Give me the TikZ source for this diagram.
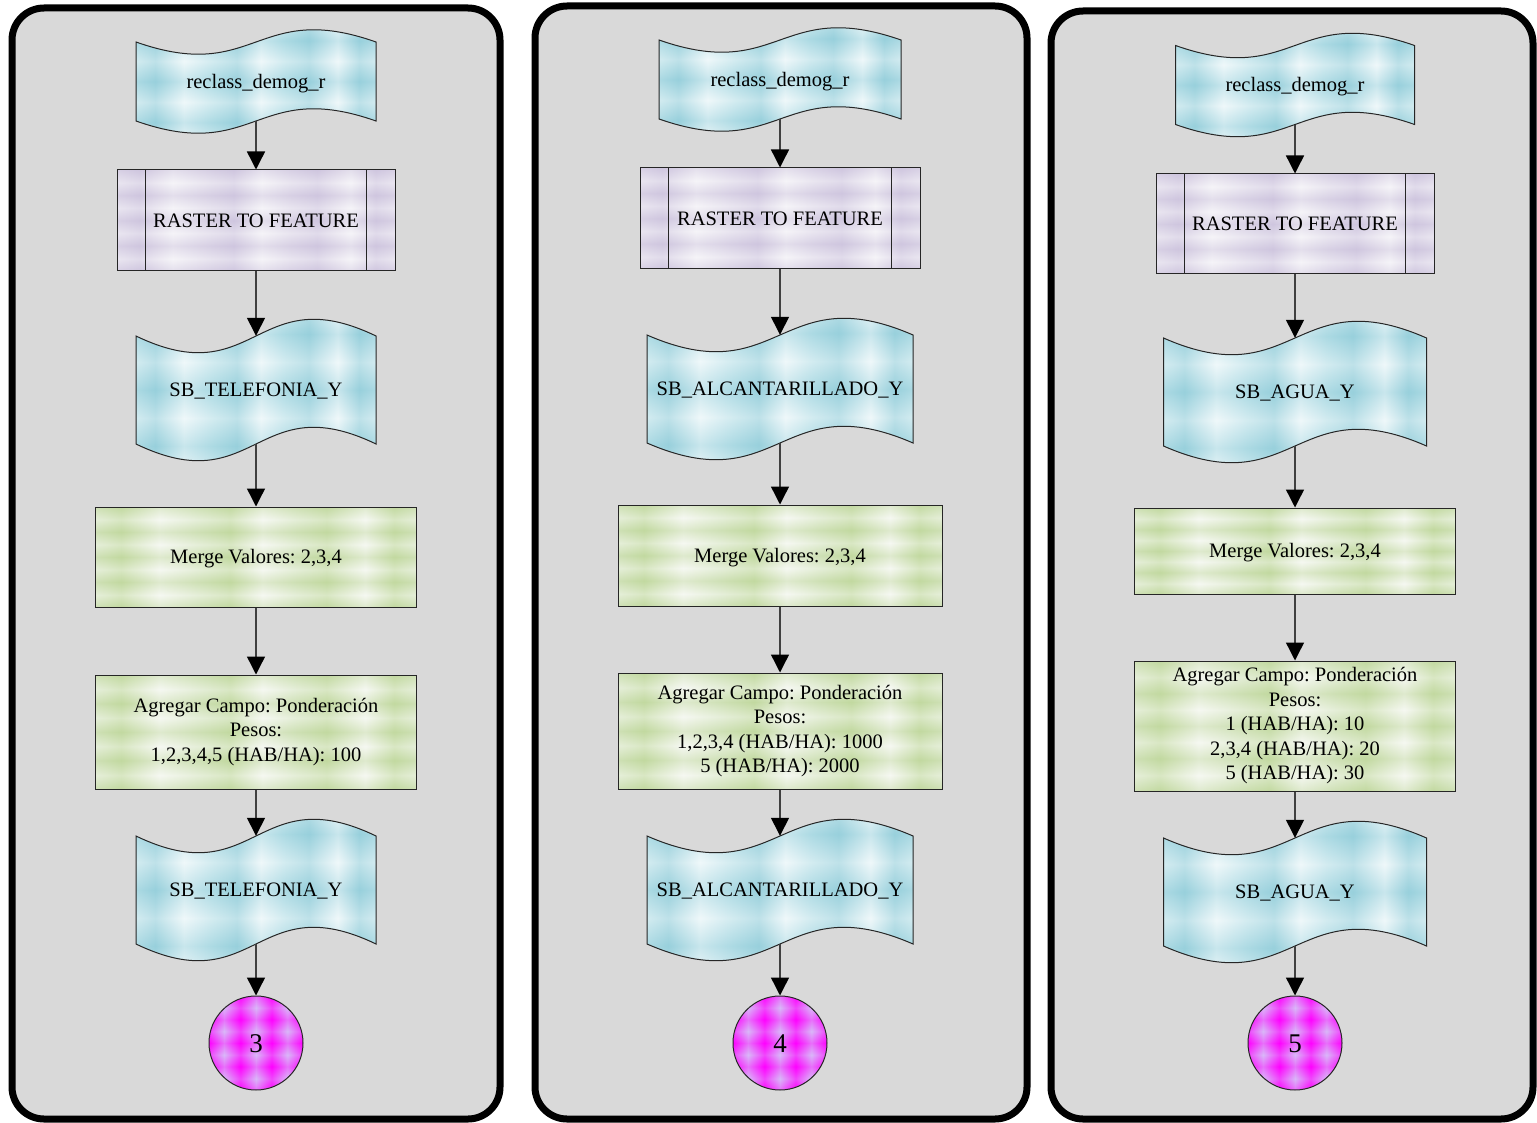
\documentclass[tikz,border=0pt]{standalone}
\usepackage{fontspec}
\setmainfont{Liberation Serif}
\usetikzlibrary{arrows.meta}
\frenchspacing

% palette
\definecolor{panelgray}{HTML}{D9D9D9}
\definecolor{tapeD}{HTML}{98D0DC}
\definecolor{tapeM}{HTML}{B8E0E8}
\definecolor{tapeL}{HTML}{E6F4F7}
\definecolor{lavD}{HTML}{CFC6DF}
\definecolor{lavM}{HTML}{DDD7E8}
\definecolor{lavL}{HTML}{F0EEF4}
\definecolor{grnD}{HTML}{C2D9A0}
\definecolor{grnM}{HTML}{D6E5C2}
\definecolor{grnL}{HTML}{F0F4EA}
\definecolor{magD}{HTML}{FF00FF}
\definecolor{magL}{HTML}{D9B8F8}

% striped fills: vertical bands (H) and horizontal bands (V)
\newcommand\makestripes[1]{%
  \pgfdeclarehorizontalshading{#1H}{100bp}{color(0bp)=(#1M); color(25bp)=(#1M);
    color(29bp)=(#1D); color(35bp)=(#1L); color(41bp)=(#1M); color(46bp)=(#1D);
    color(51bp)=(#1L); color(56bp)=(#1M); color(61bp)=(#1D); color(67bp)=(#1L);
    color(71.5bp)=(#1D); color(75bp)=(#1M); color(100bp)=(#1M)}%
  \pgfdeclareverticalshading{#1V}{100bp}{color(0bp)=(#1D); color(25bp)=(#1D);
    color(31bp)=(white); color(37.5bp)=(#1D); color(43.7bp)=(white); color(50bp)=(#1D);
    color(56.2bp)=(white); color(62.5bp)=(#1D); color(68.7bp)=(white); color(75bp)=(#1D);
    color(100bp)=(#1D)}%
}
\makestripes{tape}
\makestripes{lav}
\makestripes{grn}
\pgfdeclarehorizontalshading{magH}{100bp}{color(0bp)=(magD); color(25bp)=(magD);
  color(33bp)=(magL); color(41.7bp)=(magD); color(50bp)=(magL); color(58.3bp)=(magD);
  color(66.7bp)=(magL); color(75bp)=(magD); color(100bp)=(magD)}
\pgfdeclareverticalshading{magV}{100bp}{color(0bp)=(magD); color(25bp)=(magD);
  color(31bp)=(magL); color(37.5bp)=(magD); color(43.7bp)=(magL); color(50bp)=(magD);
  color(56.2bp)=(magL); color(62.5bp)=(magD); color(68.7bp)=(magL); color(75bp)=(magD); color(100bp)=(magD)}

% line strut: fixes the baseline of first and last line like a word processor does
\newcommand\wstrut{\rule[-0.216em]{0pt}{1.107em}}

\tikzset{
  panel/.style={draw=black, line width=7pt, fill=panelgray, rounded corners=32pt},
  outline/.style={draw=black!85, line width=1pt},
  flow/.style={draw=black!75, line width=1.4pt, -{Triangle[length=18pt,width=18pt,color=black]}},
  bands/.style={path picture={\shade[shading=#1, fill opacity=.38]
      (path picture bounding box.south west) rectangle (path picture bounding box.north east);}},
  rasterbox/.style={rectangle, outline, shade, shading=lavH, bands=lavV, inner sep=0pt},
  greenbox/.style={rectangle, outline, shade, shading=grnH, bands=grnV, inner sep=0pt, align=center},
  connector/.style={circle, outline, shade, shading=magH, bands=magV, minimum size=94pt,
      inner sep=0pt, font=\fontsize{27}{30}\selectfont},
  tapelabel/.style={rectangle, inner sep=0pt, align=center},
  every node/.style={font=\fontsize{20.5}{24.5}\selectfont, text=black,
      execute at begin node=\wstrut, execute at end node=\wstrut},
}

% punched-tape (wavy) data shape: name, cx, cy, width, height, text
\newcommand\wavetape[6]{%
  \pgfmathsetmacro\wvL{#2-#4/2}%
  \pgfmathsetmacro\wvR{#2+#4/2}%
  \pgfmathsetmacro\wvT{#3-#5/2}%
  \pgfmathsetmacro\wvB{#3+#5/2}%
  \pgfmathsetmacro\wvC{0.536*#5}%
  \path[shade, shading=tapeH,
        postaction={shade, shading=tapeV, fill opacity=.38},
        postaction={outline}]
    (\wvL,\wvT) .. controls (#2,\wvT+\wvC) and (#2,\wvT-\wvC) .. (\wvR,\wvT)
    -- (\wvR,\wvB) .. controls (#2,\wvB-\wvC) and (#2,\wvB+\wvC) .. (\wvL,\wvB) -- cycle;
  \node[tapelabel, minimum width=#4, minimum height=#5] (#1) at (#2,#3) {#6};
}

% predefined-process box: side bars
\newcommand\sidebars[1]{%
  \draw[outline] ([xshift=29pt]#1.north west) -- ([xshift=29pt]#1.south west);
  \draw[outline] ([xshift=-29pt]#1.north east) -- ([xshift=-29pt]#1.south east);
}

\begin{document}
\begin{tikzpicture}[x=1pt, y=-1pt]
\useasboundingbox (0,0) rectangle (1537,1123);
\fill[white] (0,0) rectangle (1537,1123);

% ---------- panels ----------
\draw[panel] (12,8) rectangle (500,1119);
\draw[panel] (535,6) rectangle (1027,1119);
\draw[panel] (1051,11) rectangle (1533,1119);

% ---------- chain 1 : telefonia ----------
\wavetape{p1src}{256}{81.5}{240}{79}{reclass\_demog\_r}
\node[rasterbox, minimum width=278pt, minimum height=101pt] (p1rtf) at (256,220.5) {RASTER TO FEATURE};
\sidebars{p1rtf}
\wavetape{p1lyr}{256}{390}{240}{108}{SB\_TELEFONIA\_Y}
\node[greenbox, minimum width=321pt, minimum height=100pt] (p1mrg) at (256,557) {Merge Valores: 2,3,4};
\node[greenbox, minimum width=321pt, minimum height=114pt] (p1fld) at (256,732)
  {Agregar Campo: Ponderación\\Pesos:\\1,2,3,4,5 (HAB/HA): 100};
\wavetape{p1out}{256}{890}{240}{108}{SB\_TELEFONIA\_Y}
\node[connector] (p1con) at (256,1043) {3};

\draw[flow] (p1src.south) -- (p1rtf.north);
\draw[flow] (p1rtf.south) -- (p1lyr.north);
\draw[flow] (p1lyr.south) -- (p1mrg.north);
\draw[flow] (p1mrg.south) -- (p1fld.north);
\draw[flow] (p1fld.south) -- (p1out.north);
\draw[flow] (p1out.south) -- (p1con.north);

% ---------- chain 2 : alcantarillado ----------
\wavetape{p2src}{780}{79.5}{242}{79}{reclass\_demog\_r}
\node[rasterbox, minimum width=280pt, minimum height=101pt] (p2rtf) at (780,218.5) {RASTER TO FEATURE};
\sidebars{p2rtf}
\wavetape{p2lyr}{780}{389}{266}{108}{SB\_ALCANTARILLADO\_Y}
\node[greenbox, minimum width=324pt, minimum height=101pt] (p2mrg) at (780,555.5) {Merge Valores: 2,3,4};
\node[greenbox, minimum width=324pt, minimum height=116pt] (p2fld) at (780,731)
  {Agregar Campo: Ponderación\\Pesos:\\1,2,3,4 (HAB/HA): 1000\\5 (HAB/HA): 2000};
\wavetape{p2out}{780}{890}{266}{108}{SB\_ALCANTARILLADO\_Y}
\node[connector] (p2con) at (780,1043) {4};

\draw[flow] (p2src.south) -- (p2rtf.north);
\draw[flow] (p2rtf.south) -- (p2lyr.north);
\draw[flow] (p2lyr.south) -- (p2mrg.north);
\draw[flow] (p2mrg.south) -- (p2fld.north);
\draw[flow] (p2fld.south) -- (p2out.north);
\draw[flow] (p2out.south) -- (p2con.north);

% ---------- chain 3 : agua ----------
\wavetape{p3src}{1295}{85}{239}{79}{reclass\_demog\_r}
\node[rasterbox, minimum width=278pt, minimum height=100pt] (p3rtf) at (1295,224) {RASTER TO FEATURE};
\sidebars{p3rtf}
\wavetape{p3lyr}{1295}{392}{263}{108}{SB\_AGUA\_Y}
\node[greenbox, minimum width=321pt, minimum height=86pt] (p3mrg) at (1295,551) {Merge Valores: 2,3,4};
\node[greenbox, minimum width=321pt, minimum height=130pt] (p3fld) at (1295,726)
  {Agregar Campo: Ponderación\\Pesos:\\1 (HAB/HA): 10\\2,3,4 (HAB/HA): 20\\5 (HAB/HA): 30};
\wavetape{p3out}{1295}{892}{263}{108}{SB\_AGUA\_Y}
\node[connector] (p3con) at (1295,1043) {5};

\draw[flow] (p3src.south) -- (p3rtf.north);
\draw[flow] (p3rtf.south) -- (p3lyr.north);
\draw[flow] (p3lyr.south) -- (p3mrg.north);
\draw[flow] (p3mrg.south) -- (p3fld.north);
\draw[flow] (p3fld.south) -- (p3out.north);
\draw[flow] (p3out.south) -- (p3con.north);
\end{tikzpicture}
\end{document}
